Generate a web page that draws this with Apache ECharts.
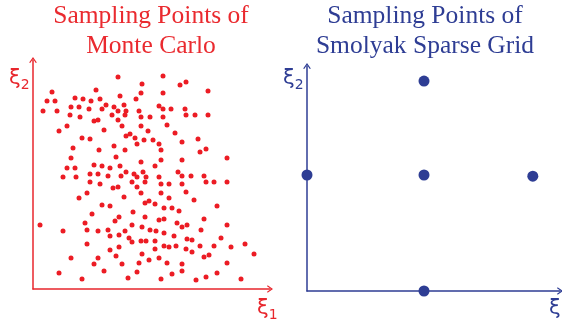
<!DOCTYPE html>
<html>
<head>
<meta charset="utf-8">
<script src="https://cdn.jsdelivr.net/npm/echarts@6/dist/echarts.min.js"></script>
<style>
  html, body { margin: 0; padding: 0; background: #ffffff; }
  #chart { width: 562px; height: 333px; }
</style>
</head>
<body>
<div id="chart"></div>
<script>
// Monte Carlo samples in the (xi1, xi2) plane, axis units
const mcPoints = [
  [85,212],[109,205],[19,197],[63,199],[108,196],[14,188],[22,188],[42,191],[50,190],[58,188],
  [67,190],[87,193],[103,190],[10,178],[24,178],[38,182],[46,182],[56,180],[69,180],[73,184],
  [81,182],[91,184],[85,178],[93,178],[106,178],[37,174],[47,172],[79,174],[92,174],[108,172],
  [61,168],[65,169],[85,169],[34,163],[89,163],[108,163],[26,158],[71,159],[115,158],[97,155],
  [93,153],[102,151],[49,151],[57,150],[111,149],[104,145],[40,141],[81,143],[66,139],[92,139],
  [38,131],[83,132],[108,127],[34,121],[42,121],[61,124],[69,123],[77,121],[87,123],[30,112],
  [43,112],[57,115],[65,115],[75,113],[88,113],[93,117],[101,115],[104,112],[110,117],[113,112],
  [57,107],[67,105],[99,107],[112,107],[80,101],[85,102],[104,102],[54,96],[108,96],[91,92],
  [46,91],[116,88],[112,86],[69,84],[77,83],[100,77],[59,75],[112,72],[86,72],[82,68],
  [52,66],[7,64],[99,64],[109,62],[30,58],[54,59],[65,58],[75,59],[92,58],[117,59],
  [77,53],[86,54],[96,51],[108,48],[113,48],[99,47],[54,45],[77,39],[86,42],[109,35],
  [38,31],[65,31],[83,33],[116,29],[106,26],[61,25],[89,25],[71,18],[26,16],[104,17],
  [49,10],[95,11],[130,213],[153,207],[147,204],[130,196],[175,198],[126,183],[130,180],[138,180],
  [152,180],[117,172],[130,172],[153,174],[162,174],[175,174],[134,164],[142,156],[120,149],[126,145],
  [149,147],[165,150],[128,139],[173,140],[167,137],[194,131],[128,129],[149,129],[122,123],[145,117],
  [126,112],[149,113],[158,113],[171,113],[128,105],[136,105],[149,105],[173,107],[181,107],[194,107],
  [128,96],[153,97],[136,91],[161,89],[122,85],[131,81],[139,81],[146,78],[184,83],[126,69],
  [131,70],[171,70],[144,66],[149,62],[154,64],[194,64],[123,58],[131,56],[168,59],[141,53],
  [188,51],[122,48],[154,50],[159,49],[131,43],[136,42],[143,43],[153,40],[167,43],[181,43],
  [198,42],[212,45],[122,40],[159,37],[221,35],[171,32],[176,34],[126,31],[134,26],[149,25],
  [194,26],[149,18],[139,15],[184,16],[128,10],[163,9],[173,12],[208,10]
];

// Smolyak sparse grid nodes (level 1, five points)
const sgXi1 = [-1, 0, 0.93, 0, 0];
const sgXi2 = [0, 0, -0.01, 0.81, -1];

// Panel headings
const mcTitle = ['Sampling Points of', 'Monte Carlo'];
const sgTitle = ['Sampling Points of', 'Smolyak Sparse Grid'];

const RED = '#ec1c24';
const RED_AXIS = '#e8262c';
const BLUE = '#2e3d94';

const chevron = 'path://M0,7 L5,0 L10,7 L8.6,7.8 L5,2.6 L1.4,7.8 Z';

function axisLine(color) {
  return {
    show: true,
    onZero: false,
    symbol: ['none', chevron],
    symbolSize: [8, 6],
    lineStyle: { color: color, width: 1.5 }
  };
}

function plainAxis(gridIndex, min, max, color) {
  return {
    type: 'value',
    gridIndex: gridIndex,
    min: min,
    max: max,
    axisLine: axisLine(color),
    axisTick: { show: false },
    axisLabel: { show: false },
    splitLine: { show: false }
  };
}

function xiLabel(x, y, idx, color) {
  return {
    type: 'text',
    x: x,
    y: y,
    style: {
      text: '{a|ξ}{b|' + idx + '}',
      rich: {
        a: { fontFamily: 'DejaVu Sans', fontSize: 21, lineHeight: 26, fill: color },
        b: { fontFamily: 'DejaVu Sans', fontSize: 14, lineHeight: 14, fill: color, verticalAlign: 'bottom' }
      }
    }
  };
}

function heading(cx, lines, color) {
  return {
    type: 'text',
    x: cx,
    y: 1,
    style: {
      text: lines.join('\n'),
      align: 'center',
      verticalAlign: 'top',
      fontFamily: 'Liberation Serif',
      fontSize: 25.5,
      lineHeight: 30,
      fill: color
    }
  };
}

const chart = echarts.init(document.getElementById('chart'), null, { renderer: 'canvas' });

chart.setOption({
  animation: false,
  backgroundColor: '#ffffff',
  grid: [
    { left: 33, top: 60, width: 237, height: 229 },
    { left: 307, top: 66, width: 253, height: 225 }
  ],
  xAxis: [
    plainAxis(0, 0, 237, RED_AXIS),
    plainAxis(1, -1, -1 + 253 / 117, BLUE)
  ],
  yAxis: [
    plainAxis(0, 0, 229, RED_AXIS),
    plainAxis(1, -1, -1 + 225 / 116, BLUE)
  ],
  series: [
    {
      name: 'Monte Carlo',
      type: 'scatter',
      xAxisIndex: 0,
      yAxisIndex: 0,
      symbolSize: 5,
      itemStyle: { color: RED, opacity: 1 },
      data: mcPoints
    },
    {
      name: 'Smolyak Sparse Grid',
      type: 'scatter',
      xAxisIndex: 1,
      yAxisIndex: 1,
      symbolSize: 11,
      itemStyle: { color: BLUE, opacity: 1 },
      data: sgXi1.map((v, i) => [v, sgXi2[i]])
    }
  ],
  graphic: [
    heading(151, mcTitle, '#ea2a2f'),
    heading(425, sgTitle, BLUE),
    xiLabel(9, 66, 2, RED_AXIS),
    xiLabel(257, 296, 1, RED_AXIS),
    xiLabel(283, 66, 2, BLUE),
    xiLabel(549, 296, 1, BLUE)
  ]
});
</script>
</body>
</html>
